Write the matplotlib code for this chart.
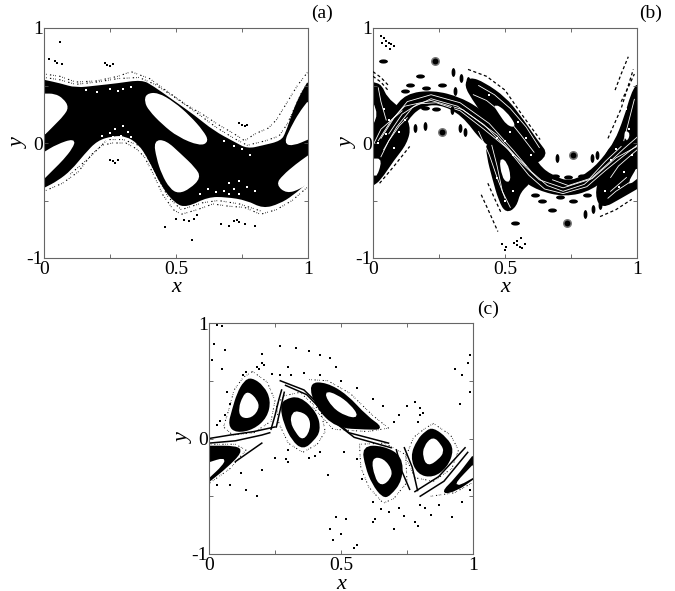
import matplotlib
matplotlib.use('Agg')
import matplotlib.pyplot as plt
from matplotlib.path import Path
from matplotlib.patches import PathPatch
from matplotlib.markers import MarkerStyle
from matplotlib.transforms import Affine2D

plt.rcParams['font.family'] = ['Liberation Serif', 'DejaVu Serif']

W, H = 675, 591

# panel (a)
a_body = [(0,.54),(.06,.51),(.12,.47),(.2,.49),(.28,.51),(.37,.54),(.41,.49),(.49,.36),(.57,.23),(.64,.10),(.72,0),(.77,-.06),(.83,-.03),(.90,.01),(.92,.09),(.944,.26),(.97,.40),(1,.52),
          (1,-.33),(.94,-.45),(.89,-.52),(.83,-.56),(.77,-.49),(.69,-.46),(.62,-.46),(.54,-.55),(.50,-.52),(.45,-.38),(.40,-.14),(.36,0),(.31,.07),(.26,.07),(.20,.03),(.15,-.09),(.10,-.23),(.05,-.32),(0,-.38)]
a_holes = [
    [(0,.42),(.04,.42),(.07,.38),(.09,.31),(.07,.24),(.04,.17),(.01,.10),(0,.08)],
    [(0,-.09),(.05,-.02),(.115,.03),(.105,-.04),(.07,-.14),(.035,-.22),(0,-.30)],
    [(.39,.42),(.43,.43),(.49,.35),(.55,.23),(.60,.10),(.62,.015),(.59,-.015),(.51,.06),(.45,.17),(.40,.29),(.385,.36)],
    [(.42,.015),(.46,.015),(.515,-.10),(.57,-.22),(.59,-.30),(.55,-.39),(.51,-.43),(.48,-.39),(.45,-.27),(.43,-.13)],
    [(1,.35),(.97,.26),(.938,.13),(.913,0),(.944,-.015),(1,.04)],
    [(1,-.12),(.957,-.19),(.906,-.29),(.884,-.36),(.92,-.43),(.97,-.39),(1,-.34)],
]
a_fuzz = [
    [(0,.6),(.06,.58),(.12,.53),(.2,.54),(.28,.58),(.33,.62),(.4,.56),(.46,.46),(.54,.33),(.6,.25),(.66,.16),(.72,.08),(.76,.02),(.8,.08),(.85,.13),(.88,.2),(.92,.35),(.96,.5),(1,.62)],
    [(0,.57),(.06,.55),(.12,.51),(.2,.53),(.28,.56),(.36,.57),(.42,.51),(.5,.39),(.58,.26),(.65,.14),(.72,.04),(.77,-.02),(.84,.02),(.89,.06),(.92,.16),(.95,.31),(.98,.46)],
    [(0,-.42),(.07,-.35),(.13,-.25),(.18,-.1),(.22,-.02),(.26,.0),(.31,.0),(.35,-.05),(.38,-.12),(.41,-.25),(.45,-.45),(.49,-.58),(.52,-.62),(.58,-.58),(.64,-.53),(.7,-.55),(.76,-.56),(.82,-.62),(.88,-.58),(.94,-.5),(1,-.38)],
    [(.1,-.27),(.17,-.13),(.24,.03),(.3,.03),(.37,-.03),(.42,-.25),(.47,-.47),(.52,-.58),(.6,-.52),(.66,-.5),(.74,-.53),(.82,-.59)],
]
a_specks = [(.02,.73),(.04,.71),(.05,.7),(.07,.69),(.23,.7),(.24,.68),(.26,.69),(.25,.67),(.06,.88),(.75,.16),(.76,.15),(.74,.17),(.77,.16),
            (.25,-.15),(.26,-.16),(.27,-.17),(.28,-.15),(.46,-.73),(.56,-.84),(.53,-.67),(.55,-.68),(.57,-.66),(.58,-.63),(.72,-.68),(.74,-.69),(.76,-.7),(.73,-.67),(.7,-.72),(.67,-.7),(.8,-.72),(.5,-.66)]
a_flecks = [(.22,.06),(.25,.09),(.27,.12),(.3,.15),(.26,.05),(.32,.1),(.29,.06),(.7,-.35),(.74,-.33),(.72,-.4),(.68,-.42),(.77,-.38),(.8,-.42),(.65,-.43),(.62,-.4),(.28,.45),(.2,.44),(.25,.47),(.3,.47),(.33,.49),(.16,.46),(.75,-.05),(.72,-.03),(.78,-.1),(.8,-.02),(.68,.02),(.24,.03),(.28,.03),(.33,.05),(.7,-.44),(.74,-.44),(.59,-.44)]

# panel (b)
b_body = [
    [(0,.1),(.076,.275),(.126,.42),(.227,.45),(.33,.39),(.417,.27),(.5,.1),(.576,0),(.626,-.2),(.677,-.29),(.75,-.35),(.84,-.23),(.917,0),(1,.15),
     (1,-.2),(.917,-.23),(.828,-.405),(.727,-.46),(.626,-.405),(.557,-.3),(.5,-.1),(.417,.01),(.34,.25),(.25,.35),(.177,.32),(.126,.2),(.076,0),(0,-.2)],
    [(.366,.565),(.42,.52),(.5,.39),(.55,.25),(.626,.0),(.66,-.1),(.6,-.2),(.5,-.05),(.42,.25),(.38,.38),(.35,.5)],
    [(.43,.03),(.6,-.15),(.6,-.33),(.555,-.42),(.54,-.55),(.505,-.6),(.48,-.5),(.455,-.3),(.435,-.12)],
    [(0,.52),(.03,.5),(.05,.39),(.1,.3),(.14,.15),(.126,0),(.076,-.145),(.025,-.32),(0,-.36)],
    [(.917,0),(.955,.22),(.98,.42),(1,.5),(1,-.39),(.94,-.47),(.866,-.565),(.845,-.45),(.86,-.3),(.88,-.1)],
]
b_holes = [
    [(.46,.333),(.50,.275),(.54,.145),(.51,.16),(.48,.26)],
    [(.482,-.136),(.505,-.174),(.518,-.29),(.511,-.34),(.492,-.29)],
    [(0,-.145),(.032,-.145),(.006,-.32)],
    [(0,.33),(.012,.25),(0,.18)],
    [(1,-.23),(.967,-.36),(1,-.3)],
    [(.955,.1),(.97,.08),(.96,.02)],
]
b_arcs = [
    ([.03,.08,.13,.22,.33,.44,.53,.6,.66,.72,.8,.88,.95,1],[.04,.22,.36,.42,.35,.17,-.06,-.25,-.37,-.42,-.36,-.2,-.05,.05]),
    ([.04,.09,.15,.22,.32,.42,.51,.59,.65,.72,.81,.88,.95,1],[-.06,.14,.31,.385,.32,.16,-.05,-.28,-.4,-.44,-.38,-.24,-.11,-.02]),
    ([.02,.07,.12,.22,.34,.47,.56,.63,.72,.83,.92,1],[.02,.2,.32,.37,.29,.07,-.17,-.32,-.39,-.31,-.13,-.03]),
    ([.06,.11,.17,.24,.33,.42,.5,.58],[.08,.25,.34,.35,.28,.12,-.03,-.2]),
    ([.68,.74,.82,.88,.94],[-.32,-.37,-.31,-.16,-.03]),
    ([.03,.06,.1,.13],[-.12,.02,.15,.22]),
    ([.9,.93,.97,1],[-.3,-.2,-.12,-.06]),
    ([.38,.43,.5,.56,.61],[.42,.37,.24,.07,-.08]),
    ([.4,.44,.47,.5],[.1,-.1,-.3,-.48]),
    ([.02,.03,.05],[.48,.36,.2]),
    ([.9,.93,.96],[-.42,-.36,-.3]),
    ([.4,.46,.52,.58,.63],[.5,.42,.3,.14,-.04]),
    ([.45,.47,.49,.52],[-.02,-.2,-.42,-.56]),
    ([.89,.92,.96,1],[-.48,-.42,-.36,-.3]),
    ([.95,.97,.99],[.02,.2,.38]),
    ([.0,.03,.07,.11],[-.02,.12,.2,.28]),
]
b_flecks = [(.02,.0),(.05,.08),(.08,-.04),(.1,.1),(.06,.2),(.04,.3),(.12,.2),(.44,.42),(.52,.1),(.55,.18),(.58,.04),(.6,-.1),(.47,.04),(.5,.02),(.53,-.1),(.47,-.3),(.53,-.42),(.5,-.5),(.92,-.05),(.9,-.15),(.98,-.1),(.95,-.25),(.93,-.38),(.88,-.42),(.96,.3),(.97,.12)]
b_dashes = [
    ([.36,.43,.5,.563,.633],[.64,.58,.46,.25,.03]),
    ([.41,.44,.473],[-.45,-.6,-.77]),
    ([.435,.46,.486],[-.35,-.48,-.61]),
    ([.025,.08,.139],[-.35,-.2,-.03]),
    ([.917,.94,.967],[.46,.6,.75]),
    ([.89,.94,.986],[.04,.3,.64]),
    ([.86,.92,.98],[-.64,-.58,-.49]),
    ([0,.03,.063],[.62,.57,.49]),
    ([0,.03,.06],[.58,.53,.45]),
    ([.94,.97,.99],[.36,.5,.6]),
]
b_big_x = [.236,.26,.759,.734]
b_big_y = [.71,.10,-.10,-.695]
b_wide_x = [.038,.177,.139,.2,.26,.24,.196,.12,.708,.759,.639,.614,.677,.538,.74,.69,.79,.81]
b_wide_y = [.71,.585,.507,.48,.507,.295,.305,.45,-.47,-.5,-.5,-.45,-.58,-.695,-.296,-.29,-.29,-.45]
b_tall_x = [.303,.335,.36,.196,.158,.328,.31,.3,.696,.828,.803,.835,.86,.35,.85]
b_tall_y = [.62,.565,.54,.145,.13,.13,.45,.29,-.13,-.13,-.615,-.574,-.54,.10,-.1]
b_fine_x = [.03,.04,.05,.06,.07,.08,.035,.05,.065,.535,.545,.555,.565,.575,.545,.56,.49,.5,.505]
b_fine_y = [.93,.91,.89,.87,.86,.84,.87,.84,.82,-.87,-.89,-.9,-.91,-.88,-.85,-.83,-.88,-.93,-.9]

# panel (c)
c_rings = [
    [(.16,.52),(.205,.45),(.23,.33),(.217,.187),(.167,.086),(.104,.058),(.076,.115),(.091,.245),(.11,.39),(.135,.49)],
    [(.287,.33),(.343,.36),(.407,.216),(.419,.07),(.394,-.014),(.356,-.086),(.318,-.014),(.287,.13),(.274,.274)],
    [(.583,-.072),(.659,-.072),(.729,-.158),(.729,-.36),(.684,-.49),(.659,-.504),(.621,-.39),(.596,-.245)],
    [(.848,.086),(.899,0),(.924,-.10),(.899,-.245),(.848,-.33),(.792,-.303),(.766,-.158),(.792,-.014),(.823,.058)],
    [(.381,.476),(.444,.476),(.52,.375),(.596,.187),(.659,.086),(.596,.086),(.482,.101),(.407,.274)],
    [(0,-.072),(.104,-.072),(.122,-.115),(.066,-.245),(0,-.366)],
    [(.937,-.346),(1,-.158),(1,-.346),(.937,-.447),(.88,-.475)],
]
c_holes = [
    [(.148,.40),(.18,.33),(.186,.26),(.16,.187),(.123,.187),(.116,.26),(.131,.36)],
    [(.337,.23),(.375,.187),(.381,.086),(.356,-.009),(.331,.058),(.312,.144),(.318,.216)],
    [(.619,-.173),(.659,-.18),(.69,-.274),(.684,-.346),(.653,-.403),(.631,-.33)],
    [(.848,.009),(.876,-.058),(.886,-.115),(.867,-.173),(.83,-.23),(.814,-.158),(.817,-.072)],
    [(.438,.403),(.482,.375),(.533,.288),(.564,.187),(.52,.202),(.47,.274)],
    [(0,-.216),(.059,-.173),(.047,-.23),(0,-.33)],
    [(.937,-.389),(1,-.239),(1,-.33),(.95,-.395)],
]
c_halos = [
    [(.165,.58),(.22,.49),(.25,.33),(.235,.15),(.17,.05),(.09,.03),(.055,.1),(.075,.25),(.095,.42),(.13,.53),(.165,.58)],
    [(.285,.37),(.345,.4),(.425,.23),(.44,.06),(.41,-.05),(.355,-.12),(.3,-.04),(.265,.13),(.255,.29),(.285,.37)],
    [(.57,-.05),(.665,-.04),(.745,-.14),(.75,-.38),(.7,-.52),(.66,-.56),(.605,-.42),(.575,-.25),(.57,-.05)],
    [(.85,.13),(.915,.03),(.945,-.1),(.92,-.26),(.85,-.37),(.78,-.34),(.745,-.16),(.775,.01),(.82,.09),(.85,.13)],
    [(.38,.51),(.45,.5),(.535,.39),(.62,.2),(.68,.09),(.6,.06),(.47,.08),(.39,.28)],
    [(0,-.05),(.1,-.05),(.14,-.1),(.08,-.26),(0,-.39)],
    [(.84,-.5),(.93,-.47),(1,-.38)],
]
c_streaks = [
    ([0,.08,.17,.25],[.0,.03,.06,.1]),
    ([0,.1,.2,.23],[-.04,-.02,.03,.05]),
    ([.1,.15,.2],[-.2,-.12,-.04]),
    ([.235,.25,.265,.275],[.08,.2,.34,.42]),
    ([.255,.27,.285],[.1,.25,.4]),
    ([.27,.36,.45,.53,.68],[.5,.42,.22,.05,-.04]),
    ([.29,.37,.46,.55,.69],[.46,.38,.17,.01,-.08]),
    ([.74,.77,.79],[-.08,-.25,-.45]),
    ([.71,.73,.76],[-.1,-.28,-.44]),
    ([.78,.87,.97],[-.46,-.33,-.08]),
    ([.8,.89,.98],[-.5,-.37,-.12]),
]
c_specks = [(.03,.98),(.05,.97),(.02,.82),(.06,.77),(.01,.68),(.05,.6),(.13,.55),(.14,.58),(.2,.73),(.2,.65),(.21,.64),(.18,.62),(.19,.6),(.27,.8),(.3,.62),(.33,.78),(.38,.76),(.42,.72),(.46,.7),(.48,.62),(.31,.55),(.36,.57),(.42,.55),(.5,.5),(.56,.44),(.62,.34),(.66,.28),(.7,.14),(.75,.28),(.8,.2),(.81,.22),(.8,.26),(.79,.14),(.72,.2),(.78,.32),(.93,.6),(.98,.65),(.99,.72),(.96,.55),(.99,.4),(.95,.3),
            (.07,.4),(.08,.3),(.06,.2),(.04,.15),(.03,.12),(.27,.55),(.24,.56),(.03,-.4),(.08,-.4),(.14,-.45),(.18,-.5),(.12,-.3),(.2,-.27),(.25,-.17),(.3,-.1),(.29,-.18),(.3,-.2),(.4,-.15),(.42,-.12),(.38,-.17),(.45,-.32),(.51,-.12),(.56,-.18),(.58,-.35),(.62,-.55),(.68,-.64),(.72,-.6),(.65,-.61),(.8,-.58),(.82,-.6),(.87,-.58),(.99,-.45),(.96,-.55),(.92,-.68),(.84,-.66),(.78,-.72),(.74,-.67),(.63,-.7),(.7,-.78),(.79,-.76),(.48,-.68),(.46,-.78),(.5,-.83),(.52,-.7),(.47,-.88),(.55,-.95),(.56,-.92),(.62,-.72)]

x_ticks = [0, .25, .5, .75, 1]
y_ticks = [-1, -.5, 0, .5, 1]
x_labels = ['0', '', '0.5', '', '1']
y_labels = ['-1', '', '0', '', '1']


def make_axes(left, top, right, bottom):
    ax = fig.add_axes([left/W, 1-bottom/H, (right-left)/W, (bottom-top)/H])
    ax.set_xlim(0, 1)
    ax.set_ylim(-1, 1)
    ax.set_xticks(x_ticks, x_labels)
    ax.set_yticks(y_ticks, y_labels)
    ax.tick_params(direction='in', length=3, width=.6, color='#555555', labelsize=14, pad=1, top=True, right=True)
    ax.tick_params(axis='x', pad=2)
    for s in ax.spines.values():
        s.set_linewidth(.8)
        s.set_color('#666666')
    ax.set_xlabel('x', style='italic', fontsize=16, va='center')
    ax.xaxis.set_label_coords(.5, -.13)
    ax.set_ylabel('y', style='italic', fontsize=16, labelpad=-2)
    return ax


def dots(ax, pts, color='black', size=.9, z=3):
    ax.scatter([p[0] for p in pts], [p[1] for p in pts], s=size, c=color, marker='s', linewidths=0, zorder=z)


# rounded outline, points on the frame stay sharp
def blob(ax, pts, color, z):
    pp = []
    for p in pts:
        pp.append(p)
        if p[0] in (0, 1):
            pp.append(p)
    n = len(pp)
    verts = [((pp[-1][0]+pp[0][0])/2, (pp[-1][1]+pp[0][1])/2)]
    codes = [Path.MOVETO]
    for i in range(n):
        nxt = pp[(i+1) % n]
        verts += [pp[i], ((pp[i][0]+nxt[0])/2, (pp[i][1]+nxt[1])/2)]
        codes += [Path.CURVE3, Path.CURVE3]
    ax.add_patch(PathPatch(Path(verts, codes), fc=color, ec=color, lw=1.6, zorder=z))


def polys(ax, shapes, color, z):
    for p in shapes:
        blob(ax, p, color, z)


def fuzz(ax, lines, lw=.8):
    for p in lines:
        ax.plot([q[0] for q in p], [q[1] for q in p], color='black', lw=lw, ls=(0, (.6, 1.2, .6, 3, 1.2, 1.8)), zorder=1.5)


fig = plt.figure(figsize=(W/100, H/100), dpi=100)

ax = make_axes(44, 28, 308, 258)
polys(ax, [a_body], 'black', 1)
polys(ax, a_holes, 'white', 2)
fuzz(ax, a_fuzz)
dots(ax, a_specks)
dots(ax, a_flecks, color='white')

ax = make_axes(373, 28, 637, 258)
polys(ax, b_body, 'black', 1)
polys(ax, b_holes, 'white', 2.5)
for ax_x, ax_y in b_arcs:
    ax.plot(ax_x, ax_y, color='white', lw=.6, zorder=2)
dots(ax, b_flecks, color='white', size=1.4)
for dx, dy in b_dashes:
    ax.plot(dx, dy, color='black', lw=.9, ls=(0, (2.5, 2)), zorder=3)
wide = MarkerStyle('o', transform=Affine2D().scale(1.5, .7))
tall = MarkerStyle('o', transform=Affine2D().scale(.65, 1.5))
ax.scatter(b_big_x, b_big_y, s=42, c='#777777', marker='o', linewidths=0, zorder=3)
ax.scatter(b_big_x, b_big_y, s=18, c='black', marker='o', linewidths=0, zorder=3)
ax.scatter(b_wide_x, b_wide_y, s=18, c='black', marker=wide, linewidths=0, zorder=3)
ax.scatter(b_tall_x, b_tall_y, s=18, c='black', marker=tall, linewidths=0, zorder=3)
ax.scatter(b_fine_x, b_fine_y, s=1.5, c='black', marker='s', linewidths=0, zorder=3)

ax = make_axes(209, 323, 473, 554)
polys(ax, c_rings, 'black', 1)
polys(ax, c_holes, 'white', 2)
fuzz(ax, c_halos, lw=.7)
for sx, sy in c_streaks:
    ax.plot(sx, sy, color='black', lw=1.1, zorder=1.5)
dots(ax, c_specks, size=.7)

fig.text(322/W, 1-13/H, '(a)', ha='center', va='center', fontsize=14)
fig.text(651/W, 1-13/H, '(b)', ha='center', va='center', fontsize=14)
fig.text(488/W, 1-309/H, '(c)', ha='center', va='center', fontsize=14)

fig.savefig('out.png', dpi=100)
